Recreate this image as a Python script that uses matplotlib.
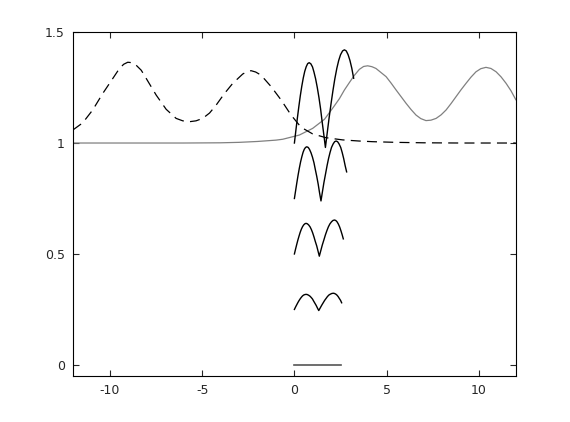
import matplotlib
matplotlib.use("Agg")
import matplotlib.pyplot as plt

# dashed curve (left side)
dash_x = [-12.0, -11.47, -10.93, -10.38, -9.84, -9.48, -9.25, -9.03, -8.8, -8.58,
          -8.3, -8.03, -7.49, -6.95, -6.41, -6.05, -5.69, -5.33, -4.97, -4.6,
          -4.24, -3.8, -3.34, -2.80, -2.58, -2.35, -2.1, -1.81, -1.26, -0.72,
          -0.18, 0.36, 0.99, 1.71, 2.62, 3.5, 4.24, 5.5, 7.0, 9.0, 12.0]
dash_y = [1.059, 1.091, 1.149, 1.224, 1.291, 1.336, 1.355, 1.364, 1.362, 1.351,
          1.328, 1.291, 1.216, 1.152, 1.111, 1.100, 1.096, 1.100, 1.111, 1.135,
          1.171, 1.222, 1.269, 1.311, 1.321, 1.326, 1.320, 1.306, 1.254, 1.194,
          1.126, 1.071, 1.041, 1.024, 1.014, 1.009, 1.006, 1.003, 1.001, 1.0, 1.0]

# grey curve (right side)
grey_x = [-12.0, -6.0, -4.0, -3.0, -2.0, -1.0, -0.63, 0.27, 0.99, 1.63, 2.1, 2.44,
          2.71, 3.0, 3.25, 3.52, 3.75, 3.97, 4.2, 4.42, 4.97, 5.24, 5.51, 5.78, 6.05,
          6.32, 6.59, 6.85, 7.13, 7.4, 7.68, 7.95, 8.22, 8.49, 8.76, 9.03, 9.30,
          9.57, 9.84, 10.1, 10.38, 10.65, 10.93, 11.2, 11.47, 11.74, 12.0]
grey_y = [1.0, 1.0, 1.001, 1.003, 1.007, 1.013, 1.017, 1.036, 1.066, 1.107, 1.16, 1.20,
          1.239, 1.275, 1.305, 1.332, 1.345, 1.348, 1.344, 1.336, 1.299, 1.27, 1.239, 1.209, 1.179,
          1.151, 1.126, 1.110, 1.101, 1.103, 1.111, 1.127, 1.149, 1.178, 1.209, 1.24, 1.269,
          1.297, 1.321, 1.335, 1.341, 1.336, 1.321, 1.298, 1.269, 1.235, 1.195]

# stacked arc traces, offsets 1.0, 0.75, 0.5, 0.25
arc1_x = [0.00, 0.08, 0.16, 0.24, 0.32, 0.40, 0.48, 0.56, 0.64, 0.72, 0.80,
          0.89, 0.98, 1.06, 1.15, 1.24, 1.33, 1.42, 1.50, 1.59, 1.68,
          1.78, 1.88, 1.99, 2.09, 2.19, 2.30, 2.40, 2.50, 2.61, 2.71,
          2.81, 2.91, 3.01, 3.11, 3.21]
arc1_y = [1.000, 1.057, 1.112, 1.164, 1.213, 1.256, 1.293, 1.323, 1.344, 1.358, 1.362,
          1.357, 1.343, 1.320, 1.289, 1.250, 1.205, 1.153, 1.098, 1.040, 0.980,
          1.047, 1.113, 1.180, 1.237, 1.289, 1.337, 1.372, 1.398, 1.415, 1.420,
          1.415, 1.398, 1.372, 1.337, 1.292]

arc2_x = [0.00, 0.067, 0.134, 0.201, 0.268, 0.335, 0.402, 0.469, 0.536, 0.603, 0.67,
          0.75, 0.82, 0.90, 0.98, 1.06, 1.13, 1.21, 1.29, 1.36, 1.44,
          1.52, 1.60, 1.69, 1.77, 1.85, 1.93, 2.01, 2.10, 2.18, 2.26,
          2.34, 2.42, 2.51, 2.59, 2.67, 2.75, 2.83]
arc2_y = [0.750, 0.786, 0.822, 0.856, 0.887, 0.915, 0.938, 0.958, 0.972, 0.980, 0.983,
          0.980, 0.971, 0.956, 0.936, 0.911, 0.882, 0.850, 0.814, 0.777, 0.739,
          0.781, 0.822, 0.862, 0.898, 0.930, 0.957, 0.980, 0.996, 1.006, 1.009,
          1.006, 0.996, 0.980, 0.957, 0.930, 0.898, 0.870]

arc3_x = [0.00, 0.063, 0.126, 0.189, 0.252, 0.315, 0.378, 0.441, 0.504, 0.567, 0.63,
          0.70, 0.77, 0.85, 0.92, 0.99, 1.06, 1.13, 1.21, 1.28, 1.35,
          1.43, 1.51, 1.60, 1.68, 1.76, 1.84, 1.92, 2.01, 2.09, 2.17,
          2.24, 2.31, 2.38, 2.45, 2.52, 2.59, 2.65]
arc3_y = [0.500, 0.522, 0.543, 0.563, 0.581, 0.598, 0.612, 0.623, 0.631, 0.636, 0.638,
          0.636, 0.631, 0.622, 0.610, 0.595, 0.577, 0.557, 0.536, 0.513, 0.490,
          0.515, 0.540, 0.564, 0.586, 0.605, 0.622, 0.635, 0.645, 0.651, 0.653,
          0.651, 0.645, 0.635, 0.622, 0.605, 0.586, 0.568]

arc4_x = [0.00, 0.063, 0.126, 0.189, 0.252, 0.315, 0.378, 0.441, 0.504, 0.567, 0.63,
          0.70, 0.77, 0.84, 0.91, 0.98, 1.04, 1.11, 1.18, 1.25, 1.32,
          1.40, 1.48, 1.56, 1.64, 1.72, 1.79, 1.87, 1.95, 2.03, 2.11,
          2.17, 2.24, 2.30, 2.37, 2.43, 2.50, 2.56]
arc4_y = [0.250, 0.261, 0.271, 0.281, 0.290, 0.298, 0.305, 0.311, 0.315, 0.317, 0.318,
          0.317, 0.314, 0.310, 0.304, 0.297, 0.288, 0.278, 0.268, 0.256, 0.245,
          0.257, 0.269, 0.280, 0.291, 0.300, 0.308, 0.315, 0.319, 0.322, 0.323,
          0.322, 0.319, 0.315, 0.308, 0.300, 0.291, 0.280]

base_x = [0.0, 2.5]
base_y = [0.0, 0.0]

xticks = [-10, -5, 0, 5, 10]
yticks = [0, 0.5, 1, 1.5]
ytick_labels = ["0", "0.5", "1", "1.5"]

fig = plt.figure(figsize=(5.7, 4.22), dpi=100)
ax = fig.add_axes([0.128, 0.109, 0.777, 0.815])

ax.plot(grey_x, grey_y, color="#808080", lw=0.9)
ax.plot(dash_x, dash_y, color="black", lw=0.9, dashes=(8, 5))
for xs, ys in [(arc1_x, arc1_y), (arc2_x, arc2_y), (arc3_x, arc3_y), (arc4_x, arc4_y)]:
    ax.plot(xs, ys, color="black", lw=1.0)
ax.plot(base_x, base_y, color="#555555", lw=1.2)

ax.set_xlim(-12, 12)
ax.set_ylim(-0.05, 1.5)
ax.set_xticks(xticks)
ax.set_xticklabels([str(t) for t in xticks])
ax.set_yticks(yticks)
ax.set_yticklabels(ytick_labels)
ax.tick_params(direction="in", length=4, width=0.8, top=True, right=True,
               labelsize=9, colors="#262626", pad=6)
for s in ax.spines.values():
    s.set_linewidth(0.8)

fig.savefig("out.png", dpi=100)
